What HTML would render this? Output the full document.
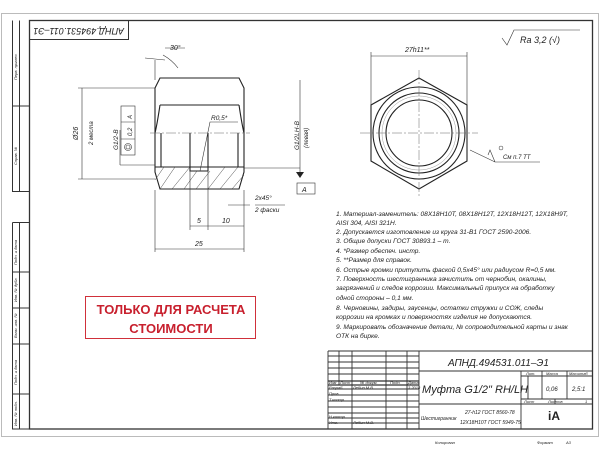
<!DOCTYPE html>
<html><head><meta charset="utf-8"><style>
html,body{margin:0;padding:0;background:#fff;}
svg{display:block;}
text{font-family:"Liberation Sans","Noto Sans CJK SC",sans-serif;font-style:italic;fill:#222;}
</style></head><body>
<svg width="600" height="450" viewBox="0 0 600 450" xmlns="http://www.w3.org/2000/svg">
<rect x="1.5" y="13.5" width="597" height="423" fill="none" stroke="#bbb" stroke-width="1"/>
<rect x="29.5" y="20.5" width="563" height="408.5" fill="none" stroke="#333" stroke-width="1.3"/>
<g stroke="#333" stroke-width="1" fill="none">
<path d="M12.5 20.5V191.5H29.5M19.5 20.5V191.5M12.5 106H29.5"/>
<path d="M12.5 222.5V429H29.5M19.5 222.5V429M12.5 222.5H29.5M12.5 272H29.5M12.5 308H29.5M12.5 344H29.5M12.5 394H29.5"/>
</g>
<g font-size="4" fill="#555">
<text transform="translate(17,80) rotate(-90)">Перв. примен.</text>
<text transform="translate(17,165) rotate(-90)">Справ. №</text>
<text transform="translate(17,265) rotate(-90)">Подп. и дата</text>
<text transform="translate(17,302) rotate(-90)">Инв. № дубл.</text>
<text transform="translate(17,338) rotate(-90)">Взам. инв. №</text>
<text transform="translate(17,385) rotate(-90)">Подп. и дата</text>
<text transform="translate(17,426) rotate(-90)">Инв. № подл.</text>
</g>
<rect x="29.5" y="20.5" width="99" height="19" fill="none" stroke="#333"/>
<text transform="translate(124,28) rotate(180)" font-size="9">АПНД.494531.011–Э1</text>

<g stroke="#222" fill="none" stroke-width="1.1">
<path d="M155 88 L160 78 H239 L244 88 V172 L239 189 H160 L155 172 Z"/>
<path d="M160 105 Q157 125 155 133 M239 105 Q242 125 244 133 M160 105 H239"/>
<path d="M155 167 H244 M161 133 V167 M238 133 V167 M190 133 V171 H208 V133"/>
</g>
<g stroke="#444" stroke-width="0.5">
<path d="M160 189 L175 167 M172 189 L190 167 M184 189 L197 171 M196 189 L210 171 M208 189 L225 167 M220 189 L238 167 M232 189 L244 175 M155 180 L164 167"/>
</g>
<path d="M150 133 H250" stroke="#666" stroke-width="0.5" stroke-dasharray="10 2 2 2"/>
<g stroke="#333" stroke-width="0.6" fill="none">
<path d="M82 88 V179 M78 88 H155 M78 179 H155"/>
<path d="M120 130 V165 M120 165 H155 M155 60 V80 M145 58 L165 60 M163 55 Q172 60 178 68 M165 48 H185"/>
<rect x="121" y="106" width="14" height="49"/>
<path d="M121 122H135M121 139H135"/>
<circle cx="128" cy="147" r="3.5"/><circle cx="128" cy="147" r="2"/>
<path d="M190 171 V230 M208 167 V230 M244 190 V252 M155 190 V252 M190 226 H244 M155 249 H244"/>
<path d="M200 171 L210 122 H238 M228 205 H250 M255 205 H285"/>
<path d="M300 80 V175 M244 168 H300"/>
</g>
<path d="M296 172 L304 172 L300 178Z" fill="#222"/>
<rect x="297" y="183" width="18" height="11" fill="none" stroke="#333" stroke-width="0.6"/>
<text x="302" y="192" font-size="7">A</text>
<g font-size="7">
<text x="170" y="50">30°</text>
<text x="211" y="120" font-size="6.5">R0,5*</text>
<text transform="translate(78,140) rotate(-90)">Ø26</text>
<text transform="translate(93,145) rotate(-90)" font-size="6">2 места</text>
<text transform="translate(118,150) rotate(-90)" font-size="6.5">G1/2-B</text>
<text transform="translate(132,136) rotate(-90)" font-size="6">0,2</text>
<text transform="translate(132,119) rotate(-90)" font-size="6">A</text>
<text transform="translate(299,150) rotate(-90)" font-size="6.5">G1/2LH-B</text>
<text transform="translate(308,148) rotate(-90)" font-size="6">(левая)</text>
<text x="255" y="200" font-size="6.5">2x45°</text>
<text x="255" y="212" font-size="6.5">2 фаски</text>
<text x="197" y="223">5</text>
<text x="222" y="223">10</text>
<text x="195" y="246">25</text>
</g>
<g stroke="#222" fill="none" stroke-width="1.1">
<polygon points="419,78 467,105 467,161 419,189 371,161 371,105"/>
<circle cx="419" cy="133" r="46"/><circle cx="419" cy="133" r="40"/>
<circle cx="419" cy="133" r="33"/>
</g>
<circle cx="419" cy="133" r="37" fill="none" stroke="#999" stroke-width="0.5"/>
<path d="M360 133H478M419 70V196" stroke="#666" stroke-width="0.5" stroke-dasharray="10 2 2 2"/>
<g stroke="#333" stroke-width="0.6" fill="none">
<path d="M371 52V105M467 52V105M371 56H467M470 150 L495 162 H540 M495 162 L490 150 L488 155"/>
<path d="M502 38 L507 45 L514 30 H580"/>
</g>
<circle cx="501" cy="148" r="2" fill="none" stroke="#333" stroke-width="0.5"/>
<text x="405" y="52" font-size="7">27h11**</text>
<text x="520" y="43" font-size="9">Ra 3,2 (√)</text>
<text x="503" y="159" font-size="6">См п.7 ТТ</text>
<g font-size="6.6">
<text x="336" y="216">1. Материал-заменитель: 08Х18Н10Т, 08Х18Н12Т, 12Х18Н12Т, 12Х18Н9Т,</text>
<text x="336" y="225">AISI 304, AISI 321H.</text>
<text x="336" y="234">2. Допускается изготовление из круга 31-В1 ГОСТ 2590-2006.</text>
<text x="336" y="243">3. Общие допуски ГОСТ 30893.1 – m.</text>
<text x="336" y="253">4.  *Размер обеспеч. инстр.</text>
<text x="336" y="262">5.  **Размер для справок.</text>
<text x="336" y="272">6. Острые кромки притупить фаской 0,5х45° или радиусом R=0,5 мм.</text>
<text x="336" y="281">7. Поверхность шестигранника зачистить от чернобин, окалины,</text>
<text x="336" y="290">загрязнений и следов коррозии. Максимальный припуск на обработку</text>
<text x="336" y="300">одной стороны – 0,1 мм.</text>
<text x="336" y="310">8. Черновины, задиры, заусенцы, остатки стружки и СОЖ, следы</text>
<text x="336" y="319">коррозии на кромках и поверхностях изделия не допускаются.</text>
<text x="336" y="329">9. Маркировать обозначение детали, № сопроводительной карты и знак</text>
<text x="336" y="338">ОТК на бирке.</text>
</g>
<rect x="85.5" y="296.5" width="170" height="42" fill="none" stroke="#d0303a" stroke-width="1"/>
<g font-family="Liberation Sans,sans-serif" font-weight="bold" font-size="13" text-anchor="middle">
<text x="171" y="314" style="font-style:normal;fill:#c8202e">ТОЛЬКО ДЛЯ РАСЧЕТА</text>
<text x="171" y="333" style="font-style:normal;fill:#c8202e">СТОИМОСТИ</text>
</g>
<g stroke="#333" stroke-width="0.9" fill="none">
<path d="M328 351 H592 M328 351 V429 M339 351 V385 M352 351 V429 M386 351 V429 M407 351 V429 M419 351 V429"/>
<path d="M328 356H419M328 362H419M328 368H419M328 374H419M328 389H419M328 395H419M328 401H419M328 407H419M328 413H419M328 418H419M328 423H419"/>
<path d="M328 381H419M328 385H419" stroke-width="1.2"/>
<path d="M419 371 H592 M419 404 H592 M521 371 V429 M521 376 H592 M542 371 V399 M567 371 V399 M521 399 H592 M555 399 V404 M528 376 V399"/>
</g>
<g font-size="4">
<text x="329" y="384">Изм</text><text x="340" y="384">Лист</text><text x="360" y="384">№ докум.</text><text x="390" y="384">Подп.</text><text x="408" y="384">Дата</text>
<text x="329" y="389">Разраб.</text><text x="353" y="389">Лебин М.В.</text><text x="408" y="389">3.2018</text>
<text x="329" y="395">Пров.</text><text x="329" y="401">Т.контр.</text>
<text x="329" y="418">Н.контр.</text><text x="329" y="424">Утв.</text><text x="353" y="424">Лебин М.В.</text>
<text x="526" y="375">Лит.</text><text x="546" y="375">Масса</text><text x="569" y="375">Масштаб</text>
<text x="524" y="403">Лист</text><text x="548" y="403">Листов</text><text x="585" y="403">1</text>
<text x="435" y="444">Копировал</text><text x="537" y="444">Формат</text><text x="566" y="444">А3</text>
</g>
<text x="448" y="366" font-size="10">АПНД.494531.011–Э1</text>
<text x="422" y="393" font-size="11">Муфта G1/2" RH/LH</text>
<text x="546" y="391" font-size="6">0,06</text><text x="572" y="391" font-size="6">2,5:1</text>
<text x="465" y="414" font-size="5">27-h12 ГОСТ 8560-78</text>
<text x="421" y="420" font-size="5">Шестигранник</text>
<text x="460" y="424" font-size="5">12Х18Н10Т ГОСТ 5949-75</text>
<text x="548" y="420" font-size="12" font-weight="bold" style="font-style:normal">iA</text>
</svg>
</body></html>
